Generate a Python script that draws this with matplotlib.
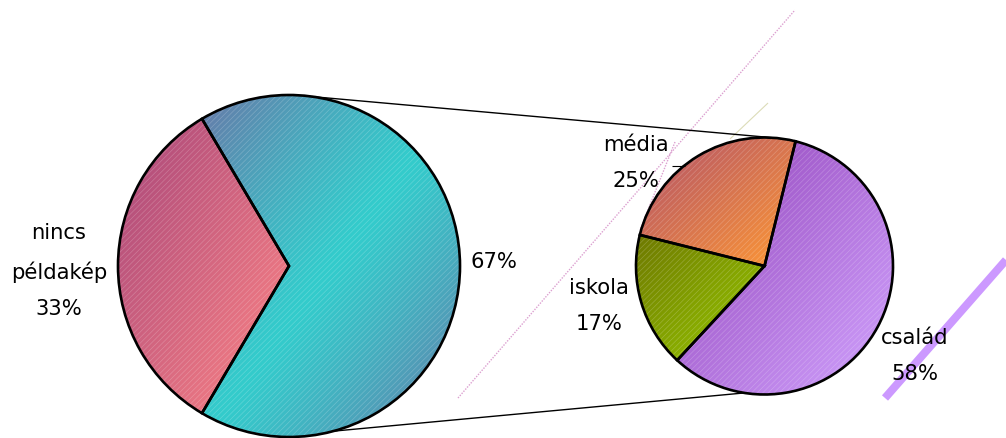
import numpy as np
import matplotlib.pyplot as plt
from matplotlib.colors import to_rgb
from matplotlib.patches import Wedge

plt.rcParams['hatch.linewidth'] = 0.5

# adatok
main_labels = ['nincs\npéldakép', '']
main_values = [33, 67]
sub_labels = ['média', 'iskola', 'család']
sub_values = [25, 17, 58]

# színátmenetek (kezdő, záró szín) szeletenként
main_colors = [('#a8467a', '#ff8686'), ('#33cccc', '#6878a8')]
main_modes = ['linear', 'center']
sub_colors = [('#b0506c', '#ff9933'), ('#6e7800', '#99cc00'), ('#9040b8', '#d2a4ff')]

W, H = 1006, 438
fig = plt.figure(figsize=(W / 100, H / 100), dpi=100)
ax = fig.add_axes([0, 0, 1, 1])

main_c, main_r = (289, 172), 171
sub_c, sub_r = (764.5, 172), 128.5


def gradient_fill(ax, w, c1, c2, mode='linear'):
    # átlós színátmenet a szelet befoglaló téglalapjában, a szeletre vágva
    (x0, y0), (x1, y1) = w.get_path().get_extents().get_points()
    X, Y = np.meshgrid(np.linspace(0, 1, 300), np.linspace(0, 1, 300))
    u = (X + (1 - Y)) / 2
    if mode == 'center':
        u = np.abs(2 * u - 1) ** 1.2
    a, b = np.array(to_rgb(c1)), np.array(to_rgb(c2))
    img = a * (1 - u[..., None]) + b * u[..., None]
    im = ax.imshow(img, extent=(x0, x1, y0, y1), origin='lower',
                   interpolation='bilinear', aspect='auto', zorder=2)
    im.set_clip_path(w)
    # finom csíkozás
    ax.add_patch(Wedge(w.center, w.r, w.theta1, w.theta2, facecolor='none',
                       edgecolor=(1, 1, 1, 0.22), lw=0, hatch='//////', zorder=2.5))
    w.set_facecolor('none')
    w.set_zorder(3)


def on_circle(c, r, deg):
    t = np.radians(deg)
    return c[0] + r * np.cos(t), c[1] + r * np.sin(t)


# háttér díszvonalak
def img_line(p, q, **kw):
    ax.plot([p[0], q[0]], [H - p[1], H - q[1]], solid_capstyle='butt', **kw)


img_line((458, 398), (795, 10), color='#dca0d0', lw=1, ls=(0, (1, 1)), zorder=0)
img_line((675, 142), (640, 230), color='#dca0d0', lw=1, ls=(0, (1, 1)), zorder=0)
img_line((768, 103), (730, 139), color='#dcdcb8', lw=0.8, zorder=0)
img_line((885, 398), (1006, 260), color='#cc99ff', lw=5.8, zorder=0)

wedge_kw = dict(edgecolor='black', linewidth=1.9)

main_start = 180 - 360 * main_values[0] / sum(main_values) / 2
wedges_main, _ = ax.pie(main_values, center=main_c, radius=main_r,
                        startangle=main_start, wedgeprops=wedge_kw, frame=True)
for w, (c1, c2), m in zip(wedges_main, main_colors, main_modes):
    gradient_fill(ax, w, c1, c2, m)

wedges_sub, _ = ax.pie(sub_values, center=sub_c, radius=sub_r,
                       startangle=76, wedgeprops=wedge_kw, frame=True)
for w, (c1, c2) in zip(wedges_sub, sub_colors):
    gradient_fill(ax, w, c1, c2)

# összekötő vonalak a két kör között
for a1, a2 in [(82, 85), (-75, -99)]:
    p = on_circle(main_c, main_r, a1)
    q = on_circle(sub_c, sub_r, a2)
    ax.plot([p[0], q[0]], [p[1], q[1]], color='black', lw=1, zorder=1)

# címkék
txt = dict(fontsize=15.2, ha='center', va='center', linespacing=2.05, zorder=4)
main_pos = [(59, 271), (494, 262)]
for lab, v, (x, y) in zip(main_labels, main_values, main_pos):
    s = f'{lab}\n{v}%' if lab else f'{v}%'
    ax.text(x, H - y, s, **txt)

sub_pos = [(636, 163), (599, 306), (915, 356)]
for lab, v, (x, y) in zip(sub_labels, sub_values, sub_pos):
    ax.text(x, H - y, f'{lab}\n{v}%', **txt)
img_line((672, 166), (685, 166), color='black', lw=0.8, zorder=4)

ax.set_xlim(0, W)
ax.set_ylim(0, H)
ax.set_aspect('equal')
ax.axis('off')

fig.savefig('out.png', dpi=100)
